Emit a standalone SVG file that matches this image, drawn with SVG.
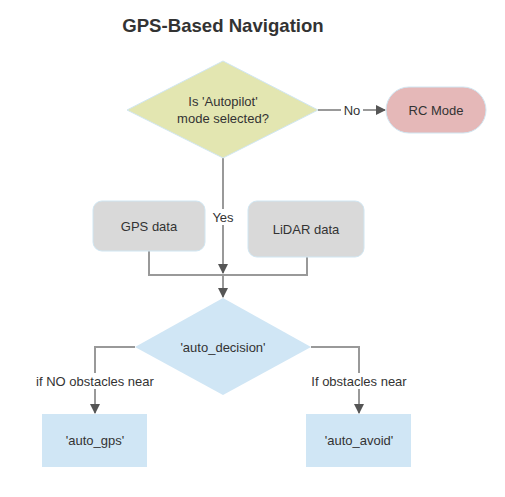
<svg xmlns="http://www.w3.org/2000/svg" width="505" height="497" viewBox="0 0 505 497">
<defs>
<style>
text{font-family:"Liberation Sans",Arial,sans-serif;fill:#333;}
.t{font-size:13px;text-anchor:middle;}
.lbl{font-size:13px;text-anchor:middle;}
.e{fill:none;stroke:#999;stroke-width:2;}
.lb{fill:#fff;}
</style>
<marker id="ah" markerWidth="10" markerHeight="10" refX="9" refY="5" orient="auto" markerUnits="userSpaceOnUse">
<path d="M0,0 L10,5 L0,10 z" fill="#555"/>
</marker>
</defs>
<rect width="505" height="497" fill="#fff"/>
<text x="223" y="32" style="font-size:18.6px;font-weight:bold;text-anchor:middle">GPS-Based Navigation</text>

<g id="connectors">
<path class="e" d="M318,110 L385,110" marker-end="url(#ah)"/>
<rect class="lb" x="341" y="101" width="22" height="16"/>
<text class="lbl" x="352" y="115">No</text>
<path class="e" d="M223,158 L223,273" marker-end="url(#ah)"/>
<rect class="lb" x="210" y="209" width="26" height="16"/>
<text class="lbl" x="223" y="222">Yes</text>
<path class="e" d="M149,251 L149,275 L307,275 L307,257"/>
<path class="e" d="M223,275 L223,297" marker-end="url(#ah)"/>
<path class="e" d="M135,347 L95,347 L95,413" marker-end="url(#ah)"/>
<rect class="lb" x="33" y="373" width="124" height="16"/>
<text class="lbl" x="95" y="386">if NO obstacles near</text>
<path class="e" d="M311,347 L359,347 L359,413" marker-end="url(#ah)"/>
<rect class="lb" x="308" y="373" width="102" height="16"/>
<text class="lbl" x="359" y="386">If obstacles near</text>
</g>

<g id="autopilot">
<polygon points="223,61 318,110 223,158 127,110" fill="#e3e6b1" stroke="#d0e6f2" stroke-width="1"/>
<text class="t" x="223" y="106">Is 'Autopilot'</text>
<text class="t" x="223" y="123">mode selected?</text>
</g>
<g id="rc_mode">
<rect x="386" y="87" width="100" height="46" rx="23" fill="#e5b8b8" stroke="#d0e6f2" stroke-width="1"/>
<text class="t" x="436" y="115">RC Mode</text>
</g>
<g id="gps_data">
<rect x="93" y="201" width="112" height="50" rx="9" fill="#d9d9d9" stroke="#d0e6f2" stroke-width="1"/>
<text class="t" x="149" y="231">GPS data</text>
</g>
<g id="lidar_data">
<rect x="248" y="201" width="116" height="56" rx="9" fill="#d9d9d9" stroke="#d0e6f2" stroke-width="1"/>
<text class="t" x="306" y="234">LiDAR data</text>
</g>
<g id="auto_decision">
<polygon points="223,298 311,347 223,395 135,347" fill="#d0e6f5"/>
<text class="t" x="223" y="352">'auto_decision'</text>
</g>
<g id="auto_gps">
<rect x="42" y="414" width="105" height="53" fill="#d0e6f5"/>
<text class="t" x="95" y="445">'auto_gps'</text>
</g>
<g id="auto_avoid">
<rect x="306" y="414" width="105" height="53" fill="#d0e6f5"/>
<text class="t" x="359" y="445">'auto_avoid'</text>
</g>
</svg>
